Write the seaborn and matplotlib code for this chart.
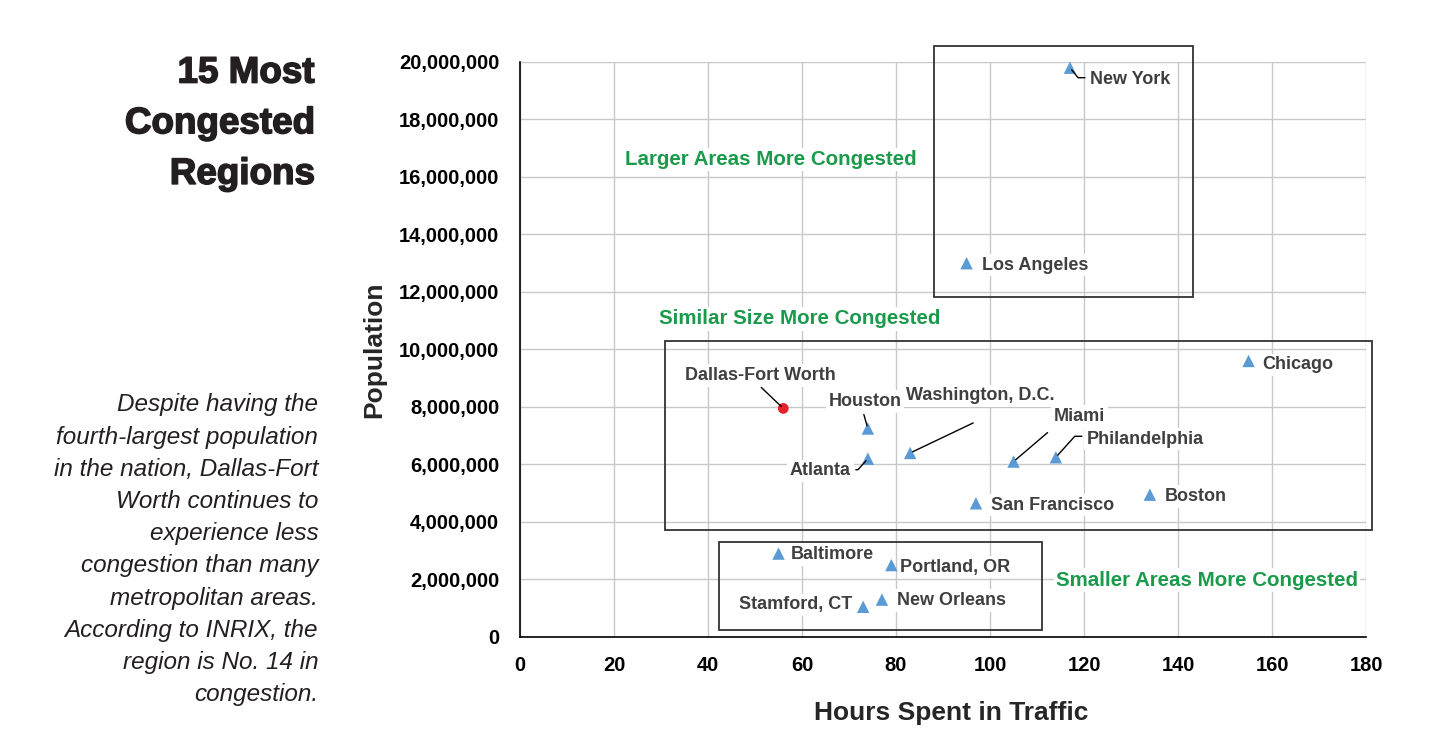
import numpy as np
import pandas as pd
import matplotlib
matplotlib.use("Agg")
import matplotlib.pyplot as plt
import matplotlib.patheffects as pe
import seaborn as sns
from matplotlib.patches import Rectangle
from matplotlib.ticker import FuncFormatter

# Data: 15 most congested regions (INRIX hours vs population)
cities = ["New York", "Los Angeles", "Chicago", "Dallas-Fort Worth", "Houston",
          "Atlanta", "Washington, D.C.", "Miami", "Philandelphia", "San Francisco",
          "Boston", "Baltimore", "Portland, OR", "New Orleans", "Stamford, CT"]
hours = [117, 95, 155, 56, 74, 74, 83, 105, 114, 97, 134, 55, 79, 77, 73]
population = [19_800_000, 13_000_000, 9_600_000, 7_950_000, 7_250_000,
              6_200_000, 6_400_000, 6_100_000, 6_250_000, 4_650_000,
              4_950_000, 2_900_000, 2_500_000, 1_300_000, 1_050_000]
highlight = "Dallas-Fort Worth"

x_ticks = np.arange(0, 181, 20)
y_ticks = np.arange(0, 20_000_001, 2_000_000)

green_notes = ["Larger Areas More Congested", "Similar Size More Congested",
               "Smaller Areas More Congested"]

df = pd.DataFrame({"city": cities, "hours": hours, "population": population})
df["group"] = np.where(df["city"] == highlight, "dfw", "other")

sns.set_style("white")
plt.rcParams["font.family"] = ["Liberation Sans", "DejaVu Sans"]

BLUE = "#5b9bd5"
RED = "#e8202a"
GREEN = "#1a9a4a"
LABEL = "#3f3f3f"

fig = plt.figure(figsize=(14.33, 7.5), dpi=100)
ax = fig.add_axes([0.3629, 0.1507, 0.5904, 0.7667])

sns.scatterplot(data=df[df.group == "other"], x="hours", y="population",
                marker="^", s=80, color=BLUE, edgecolor="none", ax=ax,
                zorder=5, clip_on=False)
sns.scatterplot(data=df[df.group == "dfw"], x="hours", y="population",
                marker="o", s=60, color=RED, edgecolor="none", ax=ax,
                zorder=5, clip_on=False)

ax.set_xlim(0, 180)
ax.set_ylim(0, 20_000_000)
ax.set_xticks(x_ticks)
ax.set_yticks(y_ticks)
ax.yaxis.set_major_formatter(FuncFormatter(lambda v, p: f"{v:,.0f}"))
ax.grid(True, color="#c8c8c8", linewidth=1)
ax.set_axisbelow(True)
for side in ["top", "right"]:
    ax.spines[side].set_visible(False)
for side in ["left", "bottom"]:
    ax.spines[side].set_color("black")
    ax.spines[side].set_linewidth(1.2)
ax.tick_params(axis="x", length=6, width=1.2, color="black", direction="out",
               labelsize=14.5, pad=8)
ax.tick_params(axis="y", length=0, labelsize=14.5, pad=15)
for lab in ax.get_xticklabels() + ax.get_yticklabels():
    lab.set_fontweight("bold")
    lab.set_color("black")

ax.set_xlabel("Hours Spent in Traffic", fontsize=19, fontweight="bold")
ax.set_ylabel("Population", fontsize=19, fontweight="bold")
ax.xaxis.set_label_coords(0.51, -0.112)
ax.yaxis.set_label_coords(-0.158, 0.5)

# label offsets in pixels from each point: (dx, dy, ha)
label_pos = {
    "New York": (20, -12, "left"),
    "Los Angeles": (15, -2, "left"),
    "Chicago": (14, -4, "left"),
    "Dallas-Fort Worth": (-23, 33, "center"),
    "Houston": (-3, 27, "center"),
    "Atlanta": (-17, -12, "right"),
    "Washington, D.C.": (-4, 57, "left"),
    "Miami": (40, 45, "left"),
    "Philandelphia": (31, 18, "left"),
    "San Francisco": (15, -2, "left"),
    "Boston": (15, -2, "left"),
    "Baltimore": (12, -1, "left"),
    "Portland, OR": (9, -2, "left"),
    "New Orleans": (15, -1, "left"),
    "Stamford, CT": (-11, 2, "right"),
}
# leader line start (pixels from point) and connection style
leaders = {
    "New York": ((15, -10), "angle,angleA=0,angleB=-51,rad=0"),
    "Dallas-Fort Worth": ((-22, 21), "arc3"),
    "Houston": ((-4, 14), "arc3"),
    "Washington, D.C.": ((63, 30), "arc3"),
    "Miami": ((34, 29), "arc3"),
    "Philandelphia": ((26, 21), "angle,angleA=0,angleB=48,rad=0"),
    "Atlanta": ((-12, -11), "angle,angleA=0,angleB=48,rad=0"),
}

for _, row in df.iterrows():
    dx, dy, ha = label_pos[row.city]
    ax.annotate(row.city, (row.hours, row.population), xytext=(dx, dy),
                textcoords="offset pixels", ha=ha, va="center", fontsize=13,
                fontweight="bold", color=LABEL, zorder=4,
                bbox=dict(boxstyle="square,pad=0.15", fc="white", ec="none"))
    if row.city in leaders:
        (lx, ly), cstyle = leaders[row.city]
        ax.annotate("", (row.hours, row.population), xytext=(lx, ly),
                    textcoords="offset pixels", zorder=6,
                    arrowprops=dict(arrowstyle="-", color="black", lw=1,
                                    shrinkA=0, shrinkB=2,
                                    connectionstyle=cstyle))

# grouping boxes: (x0, y0, x1, y1) in data units
boxes = [(88, 11_830_000, 143.2, 20_560_000),
         (30.9, 3_720_000, 181.3, 10_300_000),
         (42.3, 240_000, 111.1, 3_300_000)]
for x0, y0, x1, y1 in boxes:
    ax.add_patch(Rectangle((x0, y0), x1 - x0, y1 - y0, fill=False,
                           ec="#333333", lw=1.3, clip_on=False, zorder=3))

note_xy = [(53.4, 16_620_000), (59.6, 11_060_000), (146.2, 1_980_000)]
for txt, (nx, ny) in zip(green_notes, note_xy):
    ax.text(nx, ny, txt, ha="center", va="center", fontsize=14.8,
            fontweight="bold", color=GREEN, zorder=4,
            bbox=dict(boxstyle="square,pad=0.1", fc="white", ec="none"))

fig.text(0.2195, 0.835, "15 Most\nCongested\nRegions", ha="right", va="center",
         fontsize=26.5, fontweight="bold", color="#231f20", linespacing=1.58,
         path_effects=[pe.withStroke(linewidth=1.1, foreground="#231f20")])

body = ("Despite having the\nfourth-largest population\nin the nation, Dallas-Fort\n"
        "Worth continues to\nexperience less\ncongestion than many\n"
        "metropolitan areas.\nAccording to INRIX, the\nregion is No. 14 in\ncongestion.")
fig.text(0.222, 0.267, body, ha="right", va="center", fontsize=17.5,
         style="italic", color="#231f20", linespacing=1.51)

fig.savefig("out.png", dpi=100)
